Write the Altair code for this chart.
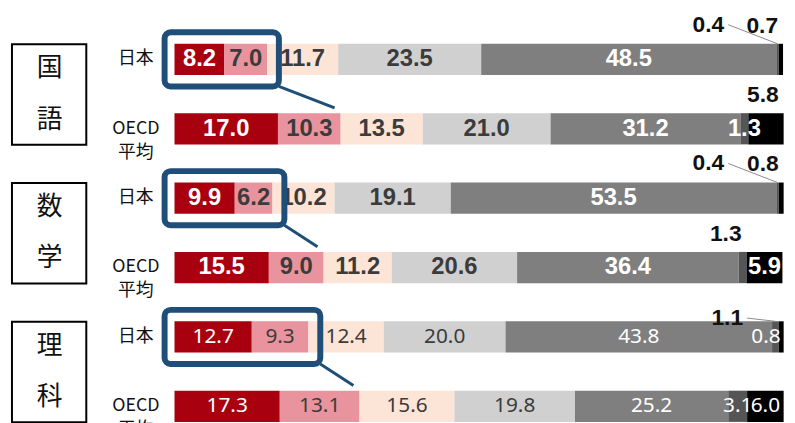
import altair as alt
import pandas as pd

# ---------------- data ----------------
subjects = ["国語", "数学", "理科"]
groups = ["日本", "OECD平均"]
segments = ["区分1", "区分2", "区分3", "区分4", "区分5", "区分6", "区分7"]
seg_colors = ["#a8000f", "#e8939d", "#fce4d6", "#d0d0d0", "#7f7f7f", "#555555", "#000000"]
text_colors = ["#ffffff", "#3b3b3b", "#3b3b3b", "#3b3b3b", "#ffffff", "#ffffff", "#ffffff"]

kokugo_jp = [8.2, 7.0, 11.7, 23.5, 48.5, 0.4, 0.7]
kokugo_oecd = [17.0, 10.3, 13.5, 21.0, 31.2, 1.3, 5.8]
math_jp = [9.9, 6.2, 10.2, 19.1, 53.5, 0.4, 0.8]
math_oecd = [15.5, 9.0, 11.2, 20.6, 36.4, 1.3, 5.9]
sci_jp = [12.7, 9.3, 12.4, 20.0, 43.8, 1.1, 0.8]
sci_oecd = [17.3, 13.1, 15.6, 19.8, 25.2, 3.1, 6.0]

# where the labels of the two last (thin) segments go, per row
tail_placement = [["far", "above"], ["in", "above"],
                  ["far", "above"], ["above", "in"],
                  ["near", "inright"], ["in", "in"]]

row_values = [kokugo_jp, kokugo_oecd, math_jp, math_oecd, sci_jp, sci_oecd]
row_labels = {"日本": "日本", "OECD平均": "OECD\n平均"}

# ---------------- geometry helpers (style) ----------------
W, H = 614, 403
ROW_PX = 70.0
PX_X = 100.0 / W
PX_Y = 1.0 / ROW_PX
HALF = 0.225
y_min = -38.0 / ROW_PX
y_max = y_min + H / ROW_PX

recs = []
r = 0
for si, subj in enumerate(subjects):
    for grp in groups:
        vals = row_values[r]
        start = 0.0
        for k, v in enumerate(vals):
            end = start + v
            place = "in" if k < 5 else tail_placement[r][k - 5]
            recs.append(dict(r=r, subject=subj, group=grp, seg=segments[k], value=v,
                             label=f"{v:.1f}", start=start, end=end, mid=(start + end) / 2,
                             place=place, tcolor=text_colors[k],
                             y0=r - HALF, y1=r + HALF))
            start = end
        r += 1
df = pd.DataFrame(recs)

xs = alt.Scale(domain=[0, 100], nice=False, zero=False)
ys = alt.Scale(domain=[y_min, y_max], reverse=True, nice=False, zero=False)

base = alt.Chart(df)

bars = base.mark_rect().encode(
    x=alt.X("start:Q", scale=xs,
            axis=alt.Axis(grid=True, values=list(range(0, 101, 10)), labels=False,
                          ticks=False, domain=False, title=None, gridColor="#d9d9d9",
                          gridWidth=1)),
    x2="end:Q",
    y=alt.Y("y0:Q", scale=ys, axis=None),
    y2="y1:Q",
    color=alt.Color("seg:N", scale=alt.Scale(domain=segments, range=seg_colors), legend=None),
)

in_bold = base.transform_filter(
    "datum.place == 'in' && datum.subject != '理科'"
).mark_text(font="Liberation Sans", fontSize=24, fontWeight="bold", baseline="middle").encode(
    x=alt.X("mid:Q", scale=xs, axis=None),
    y=alt.Y("r:Q", scale=ys, axis=None),
    text="label:N",
    color=alt.Color("tcolor:N", scale=None),
)

in_sci = base.transform_filter(
    "datum.place == 'in' && datum.subject == '理科'"
).mark_text(font="Noto Sans", fontSize=21, baseline="middle").encode(
    x=alt.X("mid:Q", scale=xs, axis=None),
    y=alt.Y("r:Q", scale=ys, axis=None),
    text="label:N",
    color=alt.Color("tcolor:N", scale=None),
)

in_right = base.transform_filter("datum.place == 'inright'").mark_text(
    font="Noto Sans", fontSize=21, baseline="middle", align="right", dx=-3
).encode(
    x=alt.X("end:Q", scale=xs, axis=None),
    y=alt.Y("r:Q", scale=ys, axis=None),
    text="label:N",
    color=alt.Color("tcolor:N", scale=None),
)

# annotations above the bars
shift_px = {"above": -5, "far": -55, "near": -36}
rise_px = {"above": 34, "far": 35, "near": 19}
ann = df[df["place"].isin(["above", "far", "near"])].copy()
ann["lx"] = ann["end"] + ann["place"].map(shift_px) * PX_X
ann["ly"] = ann["r"] - ann["place"].map(rise_px) * PX_Y
ann["line_x"] = ann["lx"] + 4 * PX_X
ann["bar_top"] = ann["r"] - HALF

above_txt = alt.Chart(ann).mark_text(
    font="Liberation Sans", fontSize=23, fontWeight="bold", baseline="middle",
    align="right", color="#111111"
).encode(
    x=alt.X("lx:Q", scale=xs, axis=None),
    y=alt.Y("ly:Q", scale=ys, axis=None),
    text="label:N",
)

leaders = alt.Chart(ann[ann["place"].isin(["far", "near"])]).mark_rule(
    color="#8a8a8a", strokeWidth=1
).encode(
    x=alt.X("line_x:Q", scale=xs, axis=None),
    y=alt.Y("ly:Q", scale=ys, axis=None),
    x2="mid:Q",
    y2="bar_top:Q",
)

# row labels
rows_df = df.drop_duplicates("r")[["r", "subject", "group"]].copy()
rows_df["rlabel"] = rows_df["group"].map(row_labels)
row_txt = alt.Chart(rows_df).mark_text(
    font="Noto Sans CJK JP", fontSize=18, lineBreak="\n", lineHeight=24,
    baseline="middle", color="#111111"
).encode(
    x=alt.value(-39),
    y=alt.Y("r:Q", scale=ys, axis=None),
    text="rlabel:N",
)

# subject boxes
box_df = pd.DataFrame({
    "subject": subjects,
    "b0": [2 * i - 0.22 for i in range(len(subjects))],
    "b1": [2 * i + 1 + 0.23 for i in range(len(subjects))],
})
boxes = alt.Chart(box_df).mark_rect(
    fill="white", stroke="#000000", strokeWidth=2
).encode(
    x=alt.value(-164), x2=alt.value(-89),
    y=alt.Y("b0:Q", scale=ys, axis=None), y2="b1:Q",
)
chars = []
for i, s in enumerate(subjects):
    chars.append(dict(ch=s[0], yc=2 * i + 0.5 - 0.37))
    chars.append(dict(ch=s[1], yc=2 * i + 0.5 + 0.37))
char_df = pd.DataFrame(chars)
box_txt = alt.Chart(char_df).mark_text(
    font="Noto Sans CJK JP", fontSize=26, baseline="middle", color="#111111"
).encode(
    x=alt.value(-126),
    y=alt.Y("yc:Q", scale=ys, axis=None),
    text="ch:N",
)

# blue highlight frames around the first two segments of the Japan rows
cum2 = {}
for rr, vals in enumerate(row_values):
    cum2[rr] = vals[0] + vals[1]
hl = []
for i in range(len(subjects)):
    rj, ro = 2 * i, 2 * i + 1
    hl.append(dict(hx0=-10 * PX_X, hx1=cum2[rj] + 12 * PX_X,
                   hy0=rj - 0.39, hy1=rj + 0.39,
                   lx1=cum2[ro] - 1.0, ly1=ro - 0.3))
hl_df = pd.DataFrame(hl)
frames = alt.Chart(hl_df).mark_rect(
    fillOpacity=0, stroke="#1f4e79", strokeWidth=6, cornerRadius=6
).encode(
    x=alt.X("hx0:Q", scale=xs, axis=None), x2="hx1:Q",
    y=alt.Y("hy0:Q", scale=ys, axis=None), y2="hy1:Q",
)
connectors = alt.Chart(hl_df).mark_rule(color="#1f4e79", strokeWidth=3).encode(
    x=alt.X("hx1:Q", scale=xs, axis=None), x2="lx1:Q",
    y=alt.Y("hy1:Q", scale=ys, axis=None), y2="ly1:Q",
)

chart = alt.layer(
    bars, in_bold, in_sci, in_right, leaders, above_txt,
    boxes, box_txt, row_txt, connectors, frames
).properties(
    width=W, height=H,
    autosize=alt.AutoSizeParams(type="none"),
    padding={"left": 168, "top": 12, "right": 4, "bottom": 0},
    background="white",
).configure_view(stroke=None)

chart.save("out.html", embed_options={"renderer": "svg", "actions": False})
